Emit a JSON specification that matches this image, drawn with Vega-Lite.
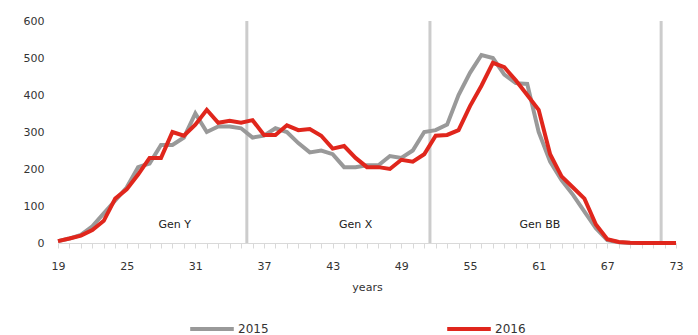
{
  "$schema": "https://vega.github.io/schema/vega-lite/v6.json",
  "width": 618,
  "height": 222,
  "autosize": "none",
  "padding": {"left": 58, "top": 21, "right": 22, "bottom": 92},
  "background": "white",
  "config": {
    "view": {"stroke": null},
    "font": "DejaVu Sans",
    "axis": {"labelFont": "DejaVu Sans", "labelFontSize": 11, "labelColor": "#333333", "titleFont": "DejaVu Sans", "titleFontSize": 11, "titleFontWeight": "normal", "titleColor": "#333333", "labelOverlap": false},
    "axisX": {"labelOverlap": false},
    "axisY": {"labelOverlap": false}
  },
  "datasets": {
    "series": [
      {"age":19,"year":"2015","value":5},{"age":20,"year":"2015","value":12},{"age":21,"year":"2015","value":22},{"age":22,"year":"2015","value":45},{"age":23,"year":"2015","value":80},{"age":24,"year":"2015","value":115},{"age":25,"year":"2015","value":150},{"age":26,"year":"2015","value":205},{"age":27,"year":"2015","value":215},{"age":28,"year":"2015","value":265},{"age":29,"year":"2015","value":265},{"age":30,"year":"2015","value":285},{"age":31,"year":"2015","value":350},{"age":32,"year":"2015","value":300},{"age":33,"year":"2015","value":315},{"age":34,"year":"2015","value":315},{"age":35,"year":"2015","value":310},{"age":36,"year":"2015","value":285},{"age":37,"year":"2015","value":290},{"age":38,"year":"2015","value":310},{"age":39,"year":"2015","value":300},{"age":40,"year":"2015","value":270},{"age":41,"year":"2015","value":245},{"age":42,"year":"2015","value":250},{"age":43,"year":"2015","value":240},{"age":44,"year":"2015","value":205},{"age":45,"year":"2015","value":205},{"age":46,"year":"2015","value":210},{"age":47,"year":"2015","value":210},{"age":48,"year":"2015","value":235},{"age":49,"year":"2015","value":230},{"age":50,"year":"2015","value":250},{"age":51,"year":"2015","value":300},{"age":52,"year":"2015","value":305},{"age":53,"year":"2015","value":320},{"age":54,"year":"2015","value":400},{"age":55,"year":"2015","value":460},{"age":56,"year":"2015","value":508},{"age":57,"year":"2015","value":500},{"age":58,"year":"2015","value":455},{"age":59,"year":"2015","value":432},{"age":60,"year":"2015","value":430},{"age":61,"year":"2015","value":300},{"age":62,"year":"2015","value":220},{"age":63,"year":"2015","value":170},{"age":64,"year":"2015","value":130},{"age":65,"year":"2015","value":85},{"age":66,"year":"2015","value":40},{"age":67,"year":"2015","value":8},{"age":68,"year":"2015","value":2},{"age":69,"year":"2015","value":0},{"age":70,"year":"2015","value":0},{"age":71,"year":"2015","value":0},{"age":72,"year":"2015","value":0},{"age":73,"year":"2015","value":0},
      {"age":19,"year":"2016","value":5},{"age":20,"year":"2016","value":12},{"age":21,"year":"2016","value":20},{"age":22,"year":"2016","value":35},{"age":23,"year":"2016","value":60},{"age":24,"year":"2016","value":120},{"age":25,"year":"2016","value":145},{"age":26,"year":"2016","value":185},{"age":27,"year":"2016","value":230},{"age":28,"year":"2016","value":230},{"age":29,"year":"2016","value":300},{"age":30,"year":"2016","value":290},{"age":31,"year":"2016","value":320},{"age":32,"year":"2016","value":360},{"age":33,"year":"2016","value":325},{"age":34,"year":"2016","value":330},{"age":35,"year":"2016","value":325},{"age":36,"year":"2016","value":332},{"age":37,"year":"2016","value":292},{"age":38,"year":"2016","value":292},{"age":39,"year":"2016","value":318},{"age":40,"year":"2016","value":305},{"age":41,"year":"2016","value":308},{"age":42,"year":"2016","value":290},{"age":43,"year":"2016","value":255},{"age":44,"year":"2016","value":262},{"age":45,"year":"2016","value":230},{"age":46,"year":"2016","value":205},{"age":47,"year":"2016","value":205},{"age":48,"year":"2016","value":200},{"age":49,"year":"2016","value":225},{"age":50,"year":"2016","value":220},{"age":51,"year":"2016","value":240},{"age":52,"year":"2016","value":290},{"age":53,"year":"2016","value":292},{"age":54,"year":"2016","value":305},{"age":55,"year":"2016","value":370},{"age":56,"year":"2016","value":425},{"age":57,"year":"2016","value":487},{"age":58,"year":"2016","value":475},{"age":59,"year":"2016","value":440},{"age":60,"year":"2016","value":400},{"age":61,"year":"2016","value":360},{"age":62,"year":"2016","value":240},{"age":63,"year":"2016","value":180},{"age":64,"year":"2016","value":150},{"age":65,"year":"2016","value":120},{"age":66,"year":"2016","value":50},{"age":67,"year":"2016","value":10},{"age":68,"year":"2016","value":3},{"age":69,"year":"2016","value":1},{"age":70,"year":"2016","value":0},{"age":71,"year":"2016","value":0},{"age":72,"year":"2016","value":0},{"age":73,"year":"2016","value":0}
    ],
    "dividers": [{"age": 35.5}, {"age": 51.5}, {"age": 71.7}],
    "labels": [{"age": 29.2, "value": 48, "text": "Gen Y"}, {"age": 45, "value": 48, "text": "Gen X"}, {"age": 61.1, "value": 48, "text": "Gen BB"}]
  },
  "encoding": {
    "x": {
      "field": "age", "type": "quantitative",
      "scale": {"domain": [19, 73], "nice": false, "zero": false},
      "axis": {
        "title": "years", "titlePadding": 10, "labelOverlap": false,
        "values": [19,20,21,22,23,24,25,26,27,28,29,30,31,32,33,34,35,36,37,38,39,40,41,42,43,44,45,46,47,48,49,50,51,52,53,54,55,56,57,58,59,60,61,62,63,64,65,66,67,68,69,70,71,72,73],
        "labelExpr": "(datum.value - 19) % 6 == 0 ? datum.label : ''",
        "grid": false, "domainColor": "#d9d9d9", "tickColor": "#d9d9d9", "tickSize": 5, "labelPadding": 12, "labelFlush": false
      }
    }
  },
  "layer": [
    {
      "data": {"name": "dividers"},
      "mark": {"type": "rule", "color": "#cccccc", "strokeWidth": 3},
      "encoding": {}
    },
    {
      "data": {"name": "labels"},
      "mark": {"type": "text", "font": "DejaVu Sans", "fontSize": 11, "color": "#222222"},
      "encoding": {
        "y": {
          "field": "value", "type": "quantitative",
          "scale": {"domain": [0, 600], "nice": false},
          "axis": {"title": null, "labelOverlap": false, "values": [0,100,200,300,400,500,600], "grid": false, "domain": false, "ticks": false, "labelPadding": 14}
        },
        "text": {"field": "text"}
      }
    },
    {
      "data": {"name": "series"},
      "mark": {"type": "line", "strokeWidth": 4, "strokeJoin": "miter"},
      "encoding": {
        "y": {
          "field": "value", "type": "quantitative",
          "scale": {"domain": [0, 600], "nice": false},
          "axis": {"title": null, "labelOverlap": false, "values": [0,100,200,300,400,500,600], "grid": false, "domain": false, "ticks": false, "labelPadding": 14}
        },
        "color": {
          "field": "year", "type": "nominal",
          "scale": {"domain": ["2015", "2016"], "range": ["#999999", "#e0261c"]},
          "legend": {
            "title": null, "orient": "none", "direction": "horizontal",
            "legendX": 130, "legendY": 284,
            "symbolType": "stroke", "symbolSize": 1900, "symbolStrokeWidth": 4,
            "labelFontSize": 12, "labelFont": "DejaVu Sans", "labelColor": "#333333",
            "columnPadding": 170, "labelOffset": 2
          }
        }
      }
    }
  ]
}
